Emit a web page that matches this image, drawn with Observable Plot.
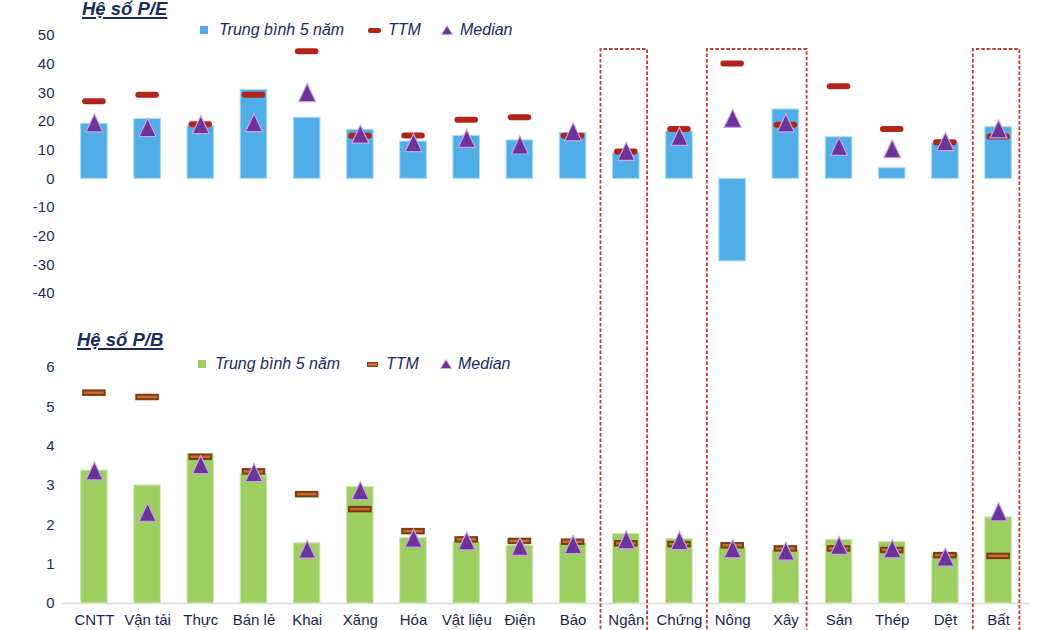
<!DOCTYPE html>
<html>
<head>
<meta charset="utf-8">
<script src="https://cdn.jsdelivr.net/npm/d3@7"></script>
<script src="https://cdn.jsdelivr.net/npm/@observablehq/plot@0.6"></script>
<style>
  body { margin: 0; background: #fff; overflow: hidden; }
  #page { position: relative; width: 1050px; height: 630px; font-family: "Liberation Sans", Arial, sans-serif; color: #1a2b5f; }
  .title { position: absolute; font-weight: bold; font-style: italic; font-size: 18.5px; line-height: 18.5px;
           text-decoration: underline; text-decoration-thickness: 2px; text-underline-offset: 2px; white-space: nowrap; }
  .legend { position: absolute; left: 0; width: 1050px; height: 16px; font-style: italic; font-size: 16px; line-height: 16px; white-space: nowrap; }
  .legend > * { position: absolute; }
  .legend svg { display: block; }
  .panel { position: absolute; left: 0; }
</style>
</head>
<body>
<div id="page">
  <div class="title" style="left:82px; top:0px;">Hệ số P/E</div>
  <div class="title" style="left:77px; top:331px;">Hệ số P/B</div>
  <div class="legend" style="top:21.5px;">
    <svg width="8" height="8" style="left:200px; top:4.5px"><rect width="8" height="8" fill="#4faee8"/></svg>
    <span style="left:219px; top:0">Trung bình 5 năm</span>
    <svg width="13" height="5" style="left:368px; top:6px"><rect width="13" height="5" rx="2" fill="#b22419"/></svg>
    <span style="left:388px; top:0">TTM</span>
    <svg width="12" height="10" style="left:441px; top:3px"><path d="M6,0.5L11.5,9.5H0.5Z" fill="#6c3499" stroke="#c9a4e6"/></svg>
    <span style="left:460px; top:0">Median</span>
  </div>
  <div class="legend" style="top:355.5px;">
    <svg width="8" height="8" style="left:198px; top:4.5px"><rect width="8" height="8" fill="#9dcf60"/></svg>
    <span style="left:215px; top:0">Trung bình 5 năm</span>
    <svg width="11" height="5" style="left:367px; top:6px"><rect x="0.5" y="0.5" width="10" height="4" fill="#c96a2c" stroke="#7b3b14"/></svg>
    <span style="left:386px; top:0">TTM</span>
    <svg width="12" height="10" style="left:440px; top:3px"><path d="M6,0.5L11.5,9.5H0.5Z" fill="#6c3499" stroke="#c9a4e6"/></svg>
    <span style="left:458px; top:0">Median</span>
  </div>
</div>
<script>
// Sectors (first word of each sector name)
const categories = ["CNTT", "Vận tải", "Thực", "Bán lẻ", "Khai", "Xăng", "Hóa", "Vật liệu", "Điện",
                    "Bảo", "Ngân", "Chứng", "Nông", "Xây", "Sản", "Thép", "Dệt", "Bất"];

// P/E: 5-year average, trailing twelve months, median
const peAvg5y  = [19.2, 20.9, 18.3, 31.0, 21.3, 17.1, 13.0, 15.0, 13.4, 16.0, 9.0, 16.5, -28.8, 24.2, 14.5, 3.7, 12.4, 18.0];
const peTTM    = [27.1, 29.3, 19.0, 29.3, 44.5, 15.0, 15.1, 20.6, 21.5, 15.0, 9.5, 17.4, 40.2, 18.9, 32.3, 17.4, 12.8, 14.8];
const peMedian = [19.5, 17.9, 18.9, 19.6, 30.1, 15.6, 12.6, 14.1, 11.8, 16.4, 9.6, 14.8, 21.1, 19.5, 11.3, 10.5, 13.0, 17.4];

// P/B: 5-year average, trailing twelve months, median
const pbAvg5y  = [3.38, 3.00, 3.80, 3.30, 1.53, 2.96, 1.66, 1.56, 1.47, 1.53, 1.77, 1.64, 1.42, 1.35, 1.62, 1.56, 1.26, 2.19];
const pbTTM    = [5.36, 5.25, 3.73, 3.36, 2.78, 2.40, 1.84, 1.63, 1.59, 1.57, 1.53, 1.51, 1.48, 1.40, 1.40, 1.36, 1.23, 1.21];
const pbMedian = [3.37, 2.32, 3.53, 3.33, 1.38, 2.87, 1.66, 1.59, 1.45, 1.50, 1.62, 1.60, 1.39, 1.33, 1.48, 1.39, 1.18, 2.33];

const peTicks = [-40, -30, -20, -10, 0, 10, 20, 30, 40, 50];
const pbTicks = [0, 1, 2, 3, 4, 5, 6];

// Sector groups outlined with a dashed frame across both panels
const highlightGroups = [["Ngân", "Ngân"], ["Nông", "Xây"], ["Bất", "Bất"]];

const peRows = categories.map((cat, i) => ({cat, avg: peAvg5y[i], ttm: peTTM[i], median: peMedian[i]}));
const pbRows = categories.map((cat, i) => ({cat, avg: pbAvg5y[i], ttm: pbTTM[i], median: pbMedian[i]}));

// Triangle marker centred on its bounding box
const triangle = {
  draw(ctx) {
    ctx.moveTo(0, -9);
    ctx.lineTo(8.5, 9);
    ctx.lineTo(-8.5, 9);
    ctx.closePath();
  }
};

const common = {
  width: 1050,
  height: 300,
  marginLeft: 62,
  marginRight: 20,
  style: {fontFamily: "Liberation Sans, Arial, sans-serif", fontSize: "15px", color: "#1a2b5f", background: "transparent", overflow: "visible"}
};
const xOpts = {domain: categories, paddingInner: 0.5, paddingOuter: 0.35, round: false};
const medianOpts = {x: "cat", y: "median", symbol: triangle, fill: "#6c3499", stroke: "#c9a4e6", strokeWidth: 1.2};

const pePlot = Plot.plot({
  ...common,
  marginTop: 35,
  marginBottom: 7,
  x: {...xOpts, axis: null},
  y: {domain: [-40, 50], axis: null},
  marks: [
    Plot.axisY({ticks: peTicks, tickSize: 0, tickPadding: 8, tickFormat: d => String(d), label: null}),
    Plot.barY(peRows, {x: "cat", y: "avg", fill: "#4faee8", stroke: "#aed9f5", strokeWidth: 1}),
    Plot.tickY(peRows, {x: "cat", y: "ttm", stroke: "#b22419", strokeWidth: 6, strokeLinecap: "round", inset: 4.5}),
    Plot.dot(peRows, medianOpts)
  ]
});

const pbPlot = Plot.plot({
  ...common,
  marginTop: 37,
  marginBottom: 27,
  x: {...xOpts, axis: null},
  y: {domain: [0, 6], axis: null},
  marks: [
    Plot.ruleY([0], {stroke: "#d9d9d9", strokeWidth: 1.5}),
    Plot.axisY({ticks: pbTicks, tickSize: 0, tickPadding: 8, tickFormat: d => String(d), label: null}),
    Plot.axisX({tickSize: 0, tickPadding: 11, label: null, fill: "#1b2450"}),
    Plot.barY(pbRows, {x: "cat", y: "avg", fill: "#9dcf60", stroke: "#cfe9b3", strokeWidth: 1}),
    Plot.tickY(pbRows, {x: "cat", y: "ttm", stroke: "#7b3b14", strokeWidth: 6.5, inset: 1.5}),
    Plot.tickY(pbRows, {x: "cat", y: "ttm", stroke: "#c96a2c", strokeWidth: 2.5, inset: 3.5}),
    Plot.dot(pbRows, medianOpts)
  ]
});

const page = document.getElementById("page");
pePlot.classList.add("panel");
pePlot.style.top = "0px";
pbPlot.classList.add("panel");
pbPlot.style.top = "330px";
page.appendChild(pePlot);
page.appendChild(pbPlot);

// Dashed frames spanning both panels
const xScale = pbPlot.scale("x");
const bw = xScale.bandwidth;
const frameTop = 49;
const overlay = d3.select(page).append("svg")
  .attr("width", 1050).attr("height", 630)
  .style("position", "absolute").style("left", 0).style("top", 0)
  .style("pointer-events", "none");
for (const [first, last] of highlightGroups) {
  const left = xScale.apply(first) - 12;
  const right = xScale.apply(last) + bw + 8;
  overlay.append("path")
    .attr("d", `M${left},640V${frameTop}H${right}V640`)
    .attr("fill", "none")
    .attr("stroke", "#c23b32")
    .attr("stroke-width", 1.8)
    .attr("stroke-dasharray", "3.5,2");
}
</script>
</body>
</html>
